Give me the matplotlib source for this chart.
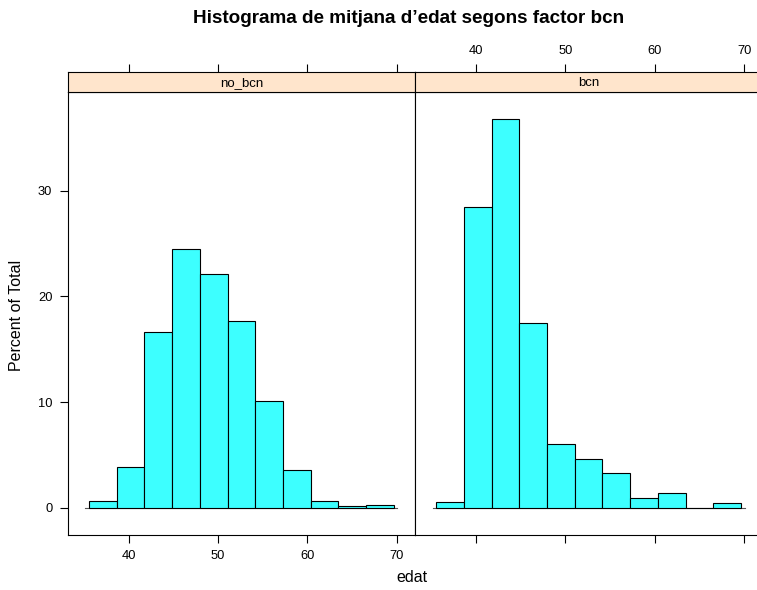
import numpy as np
import matplotlib
matplotlib.use("Agg")
import matplotlib.pyplot as plt

plt.rcParams['font.family'] = ['Liberation Sans', 'DejaVu Sans']

# Data
panels = ["no_bcn", "bcn"]
bin_edges = [35.55, 38.65, 41.75, 44.85, 47.95, 51.05, 54.15, 57.25, 60.35, 63.45, 66.55, 69.65]
pct_no_bcn = [0.6, 3.9, 16.6, 24.5, 22.1, 17.7, 10.1, 3.6, 0.6, 0.15, 0.3]
pct_bcn = [0.5, 28.5, 36.8, 17.5, 6.0, 4.6, 3.3, 0.9, 1.4, 0.0, 0.45]
x_ticks = [40, 50, 60, 70]
y_ticks = [0, 10, 20, 30]
title = "Histograma de mitjana d\u2019edat segons factor bcn"
xlabel = "edat"
ylabel = "Percent of Total"

values = [pct_no_bcn, pct_bcn]

W, H = 757, 590
fig = plt.figure(figsize=(W / 100, H / 100), dpi=100)

fill = '#3dffff'
edges = np.array(bin_edges)
widths = np.diff(edges)

xr = edges[-1] - edges[0]
xlim = (edges[0] - 0.07 * xr, edges[-1] + 0.07 * xr)
ymax = max(max(v) for v in values)
ylim = (-0.07 * ymax, ymax * 1.07)

left0 = 67.7
pw = 347.3
ptop = 91.7
pbot = 535
stop = 72

for i, (name, vals) in enumerate(zip(panels, values)):
    x0 = left0 + i * pw
    ax = fig.add_axes([x0 / W, (H - pbot) / H, pw / W, (pbot - ptop) / H])
    ax.bar(edges[:-1], vals, width=widths, align='edge', color=fill,
           edgecolor='black', linewidth=0.8, zorder=3)
    ax.plot([edges[0] - 0.4, edges[-1] + 0.4], [0, 0], color='#555555', lw=0.8, zorder=2)
    ax.set_xlim(*xlim)
    ax.set_ylim(*ylim)
    for s in ax.spines.values():
        s.set_linewidth(0.8)
        s.set_color('black')
    ax.set_xticks(x_ticks)
    ax.set_yticks(y_ticks)
    ax.tick_params(direction='out', length=6, width=0.8, labelsize=9.3, pad=5, colors='black')
    if i == 0:
        ax.tick_params(axis='x', labelbottom=True)
        ax.tick_params(axis='y', left=True, labelleft=True)
    else:
        ax.tick_params(axis='x', labelbottom=False)
        ax.tick_params(axis='y', left=False, labelleft=False)

    sax = fig.add_axes([x0 / W, (H - ptop) / H, pw / W, (ptop - stop) / H])
    sax.set_facecolor('#ffe5cc')
    sax.set_xlim(*xlim)
    sax.set_yticks([])
    sax.set_xticks(x_ticks)
    sax.xaxis.tick_top()
    sax.tick_params(axis='x', direction='out', length=6, width=0.8, labelsize=9.3, pad=5,
                    labeltop=(i == 1), labelbottom=False, bottom=False, top=True)
    for s in sax.spines.values():
        s.set_linewidth(0.8)
        s.set_color('black')
    sax.text(0.5, 0.45, name, transform=sax.transAxes, ha='center', va='center', fontsize=9.5)

fig.text(409 / W, 1 - 23.3 / H, title, ha='center', va='baseline', fontsize=13.6, fontweight='bold')
fig.text(412 / W, 1 - 578 / H, xlabel, ha='center', va='center', fontsize=11.5)
fig.text(17 / W, 1 - 315 / H, ylabel, ha='center', va='center', fontsize=11.5, rotation=90)

fig.savefig("out.png", dpi=100)
